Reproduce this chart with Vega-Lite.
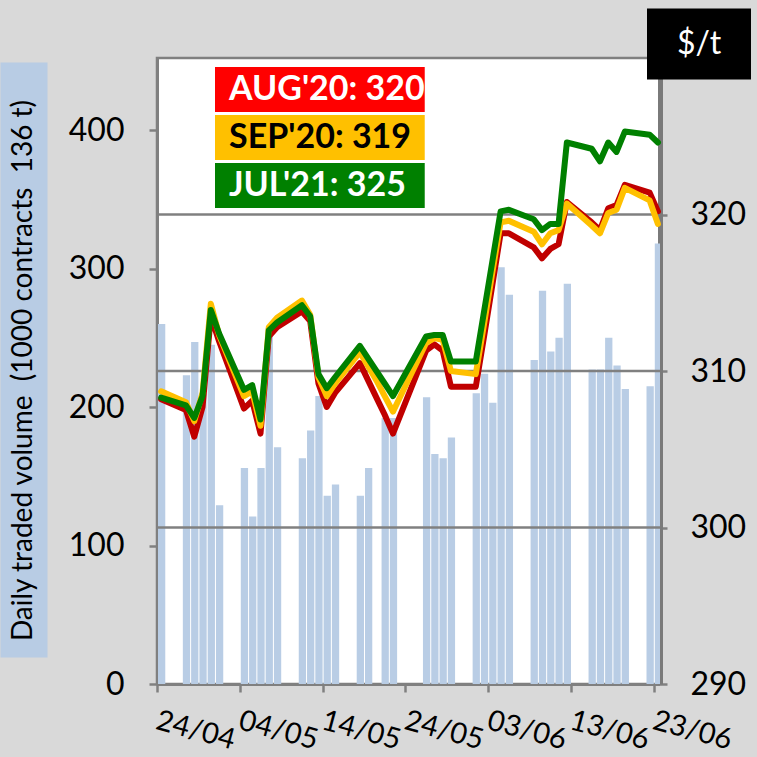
{
  "$schema": "https://vega.github.io/schema/vega-lite/v6.json",
  "width": 503,
  "height": 626,
  "autosize": {"type": "none"},
  "padding": {"left": 157, "top": 58, "right": 97, "bottom": 73},
  "background": "#d9d9d9",
  "config": {
    "view": {"fill": "white", "stroke": "#808080", "strokeWidth": 2.5},
    "font": "Lato",
    "axis": {"labelFont": "Lato", "titleFont": "Lato", "domainColor": "#808080", "tickColor": "#808080", "labelColor": "black", "grid": false}
  },
  "datasets": {
    "vol": [
      {"date": "2020-04-24", "volume": 260}, {"date": "2020-04-27", "volume": 223}, {"date": "2020-04-28", "volume": 247},
      {"date": "2020-04-29", "volume": 210}, {"date": "2020-04-30", "volume": 245}, {"date": "2020-05-01", "volume": 129},
      {"date": "2020-05-04", "volume": 156}, {"date": "2020-05-05", "volume": 121}, {"date": "2020-05-06", "volume": 156},
      {"date": "2020-05-07", "volume": 257}, {"date": "2020-05-08", "volume": 171}, {"date": "2020-05-11", "volume": 163},
      {"date": "2020-05-12", "volume": 183}, {"date": "2020-05-13", "volume": 208}, {"date": "2020-05-14", "volume": 136},
      {"date": "2020-05-15", "volume": 144}, {"date": "2020-05-18", "volume": 136}, {"date": "2020-05-19", "volume": 156},
      {"date": "2020-05-21", "volume": 192}, {"date": "2020-05-22", "volume": 192}, {"date": "2020-05-26", "volume": 207},
      {"date": "2020-05-27", "volume": 166}, {"date": "2020-05-28", "volume": 163}, {"date": "2020-05-29", "volume": 178},
      {"date": "2020-06-01", "volume": 210}, {"date": "2020-06-02", "volume": 224}, {"date": "2020-06-03", "volume": 203},
      {"date": "2020-06-04", "volume": 301}, {"date": "2020-06-05", "volume": 281}, {"date": "2020-06-08", "volume": 234},
      {"date": "2020-06-09", "volume": 284}, {"date": "2020-06-10", "volume": 240}, {"date": "2020-06-11", "volume": 250},
      {"date": "2020-06-12", "volume": 289}, {"date": "2020-06-15", "volume": 227}, {"date": "2020-06-16", "volume": 227},
      {"date": "2020-06-17", "volume": 250}, {"date": "2020-06-18", "volume": 230}, {"date": "2020-06-19", "volume": 213},
      {"date": "2020-06-22", "volume": 215}, {"date": "2020-06-23", "volume": 318}
    ],
    "price": [
      {"date": "2020-04-24", "contract": "AUG'20: 320", "price": 308.2},
      {"date": "2020-04-27", "contract": "AUG'20: 320", "price": 307.5},
      {"date": "2020-04-28", "contract": "AUG'20: 320", "price": 305.8},
      {"date": "2020-04-29", "contract": "AUG'20: 320", "price": 307.7},
      {"date": "2020-04-30", "contract": "AUG'20: 320", "price": 313.5},
      {"date": "2020-05-01", "contract": "AUG'20: 320", "price": 311.9},
      {"date": "2020-05-04", "contract": "AUG'20: 320", "price": 307.6},
      {"date": "2020-05-05", "contract": "AUG'20: 320", "price": 308.1},
      {"date": "2020-05-06", "contract": "AUG'20: 320", "price": 306.0},
      {"date": "2020-05-07", "contract": "AUG'20: 320", "price": 312.2},
      {"date": "2020-05-08", "contract": "AUG'20: 320", "price": 312.8},
      {"date": "2020-05-11", "contract": "AUG'20: 320", "price": 313.8},
      {"date": "2020-05-12", "contract": "AUG'20: 320", "price": 313.2},
      {"date": "2020-05-13", "contract": "AUG'20: 320", "price": 309.2},
      {"date": "2020-05-14", "contract": "AUG'20: 320", "price": 307.7},
      {"date": "2020-05-15", "contract": "AUG'20: 320", "price": 308.6},
      {"date": "2020-05-18", "contract": "AUG'20: 320", "price": 310.5},
      {"date": "2020-05-19", "contract": "AUG'20: 320", "price": 309.4},
      {"date": "2020-05-20", "contract": "AUG'20: 320", "price": 308.3},
      {"date": "2020-05-21", "contract": "AUG'20: 320", "price": 307.2},
      {"date": "2020-05-22", "contract": "AUG'20: 320", "price": 306.0},
      {"date": "2020-05-26", "contract": "AUG'20: 320", "price": 311.3},
      {"date": "2020-05-27", "contract": "AUG'20: 320", "price": 311.7},
      {"date": "2020-05-28", "contract": "AUG'20: 320", "price": 311.3},
      {"date": "2020-05-29", "contract": "AUG'20: 320", "price": 309.0},
      {"date": "2020-06-01", "contract": "AUG'20: 320", "price": 309.0},
      {"date": "2020-06-02", "contract": "AUG'20: 320", "price": 312.2},
      {"date": "2020-06-03", "contract": "AUG'20: 320", "price": 315.5},
      {"date": "2020-06-04", "contract": "AUG'20: 320", "price": 318.8},
      {"date": "2020-06-05", "contract": "AUG'20: 320", "price": 318.8},
      {"date": "2020-06-08", "contract": "AUG'20: 320", "price": 317.9},
      {"date": "2020-06-09", "contract": "AUG'20: 320", "price": 317.2},
      {"date": "2020-06-10", "contract": "AUG'20: 320", "price": 317.8},
      {"date": "2020-06-11", "contract": "AUG'20: 320", "price": 318.1},
      {"date": "2020-06-12", "contract": "AUG'20: 320", "price": 320.8},
      {"date": "2020-06-15", "contract": "AUG'20: 320", "price": 319.5},
      {"date": "2020-06-16", "contract": "AUG'20: 320", "price": 319.0},
      {"date": "2020-06-17", "contract": "AUG'20: 320", "price": 320.4},
      {"date": "2020-06-18", "contract": "AUG'20: 320", "price": 320.6},
      {"date": "2020-06-19", "contract": "AUG'20: 320", "price": 321.9},
      {"date": "2020-06-22", "contract": "AUG'20: 320", "price": 321.4},
      {"date": "2020-06-23", "contract": "AUG'20: 320", "price": 320.2},
      {"date": "2020-04-24", "contract": "SEP'20: 319", "price": 308.7},
      {"date": "2020-04-27", "contract": "SEP'20: 319", "price": 308.0},
      {"date": "2020-04-28", "contract": "SEP'20: 319", "price": 306.8},
      {"date": "2020-04-29", "contract": "SEP'20: 319", "price": 308.6},
      {"date": "2020-04-30", "contract": "SEP'20: 319", "price": 314.3},
      {"date": "2020-05-01", "contract": "SEP'20: 319", "price": 312.3},
      {"date": "2020-05-04", "contract": "SEP'20: 319", "price": 308.4},
      {"date": "2020-05-05", "contract": "SEP'20: 319", "price": 308.7},
      {"date": "2020-05-06", "contract": "SEP'20: 319", "price": 306.5},
      {"date": "2020-05-07", "contract": "SEP'20: 319", "price": 312.8},
      {"date": "2020-05-08", "contract": "SEP'20: 319", "price": 313.4},
      {"date": "2020-05-11", "contract": "SEP'20: 319", "price": 314.5},
      {"date": "2020-05-12", "contract": "SEP'20: 319", "price": 313.6},
      {"date": "2020-05-13", "contract": "SEP'20: 319", "price": 309.6},
      {"date": "2020-05-14", "contract": "SEP'20: 319", "price": 308.4},
      {"date": "2020-05-15", "contract": "SEP'20: 319", "price": 309.2},
      {"date": "2020-05-18", "contract": "SEP'20: 319", "price": 311.2},
      {"date": "2020-05-19", "contract": "SEP'20: 319", "price": 310.3},
      {"date": "2020-05-20", "contract": "SEP'20: 319", "price": 309.4},
      {"date": "2020-05-21", "contract": "SEP'20: 319", "price": 308.4},
      {"date": "2020-05-22", "contract": "SEP'20: 319", "price": 307.4},
      {"date": "2020-05-26", "contract": "SEP'20: 319", "price": 311.8},
      {"date": "2020-05-27", "contract": "SEP'20: 319", "price": 312.1},
      {"date": "2020-05-28", "contract": "SEP'20: 319", "price": 312.0},
      {"date": "2020-05-29", "contract": "SEP'20: 319", "price": 310.0},
      {"date": "2020-06-01", "contract": "SEP'20: 319", "price": 309.8},
      {"date": "2020-06-02", "contract": "SEP'20: 319", "price": 313.0},
      {"date": "2020-06-03", "contract": "SEP'20: 319", "price": 316.3},
      {"date": "2020-06-04", "contract": "SEP'20: 319", "price": 319.5},
      {"date": "2020-06-05", "contract": "SEP'20: 319", "price": 319.6},
      {"date": "2020-06-08", "contract": "SEP'20: 319", "price": 318.9},
      {"date": "2020-06-09", "contract": "SEP'20: 319", "price": 318.1},
      {"date": "2020-06-10", "contract": "SEP'20: 319", "price": 318.8},
      {"date": "2020-06-11", "contract": "SEP'20: 319", "price": 319.0},
      {"date": "2020-06-12", "contract": "SEP'20: 319", "price": 320.7},
      {"date": "2020-06-15", "contract": "SEP'20: 319", "price": 319.3},
      {"date": "2020-06-16", "contract": "SEP'20: 319", "price": 318.8},
      {"date": "2020-06-17", "contract": "SEP'20: 319", "price": 320.1},
      {"date": "2020-06-18", "contract": "SEP'20: 319", "price": 320.3},
      {"date": "2020-06-19", "contract": "SEP'20: 319", "price": 321.7},
      {"date": "2020-06-22", "contract": "SEP'20: 319", "price": 320.9},
      {"date": "2020-06-23", "contract": "SEP'20: 319", "price": 319.4},
      {"date": "2020-04-24", "contract": "JUL'21: 325", "price": 308.3},
      {"date": "2020-04-27", "contract": "JUL'21: 325", "price": 307.8},
      {"date": "2020-04-28", "contract": "JUL'21: 325", "price": 307.0},
      {"date": "2020-04-29", "contract": "JUL'21: 325", "price": 308.4},
      {"date": "2020-04-30", "contract": "JUL'21: 325", "price": 313.9},
      {"date": "2020-05-01", "contract": "JUL'21: 325", "price": 312.4},
      {"date": "2020-05-04", "contract": "JUL'21: 325", "price": 308.8},
      {"date": "2020-05-05", "contract": "JUL'21: 325", "price": 309.1},
      {"date": "2020-05-06", "contract": "JUL'21: 325", "price": 306.9},
      {"date": "2020-05-07", "contract": "JUL'21: 325", "price": 312.6},
      {"date": "2020-05-08", "contract": "JUL'21: 325", "price": 313.1},
      {"date": "2020-05-11", "contract": "JUL'21: 325", "price": 314.2},
      {"date": "2020-05-12", "contract": "JUL'21: 325", "price": 313.5},
      {"date": "2020-05-13", "contract": "JUL'21: 325", "price": 309.8},
      {"date": "2020-05-14", "contract": "JUL'21: 325", "price": 308.9},
      {"date": "2020-05-15", "contract": "JUL'21: 325", "price": 309.6},
      {"date": "2020-05-18", "contract": "JUL'21: 325", "price": 311.6},
      {"date": "2020-05-19", "contract": "JUL'21: 325", "price": 310.8},
      {"date": "2020-05-20", "contract": "JUL'21: 325", "price": 310.0},
      {"date": "2020-05-21", "contract": "JUL'21: 325", "price": 309.2},
      {"date": "2020-05-22", "contract": "JUL'21: 325", "price": 308.4},
      {"date": "2020-05-26", "contract": "JUL'21: 325", "price": 312.2},
      {"date": "2020-05-27", "contract": "JUL'21: 325", "price": 312.3},
      {"date": "2020-05-28", "contract": "JUL'21: 325", "price": 312.3},
      {"date": "2020-05-29", "contract": "JUL'21: 325", "price": 310.6},
      {"date": "2020-06-01", "contract": "JUL'21: 325", "price": 310.6},
      {"date": "2020-06-02", "contract": "JUL'21: 325", "price": 313.8},
      {"date": "2020-06-03", "contract": "JUL'21: 325", "price": 317.0},
      {"date": "2020-06-04", "contract": "JUL'21: 325", "price": 320.2},
      {"date": "2020-06-05", "contract": "JUL'21: 325", "price": 320.3},
      {"date": "2020-06-08", "contract": "JUL'21: 325", "price": 319.7},
      {"date": "2020-06-09", "contract": "JUL'21: 325", "price": 319.0},
      {"date": "2020-06-10", "contract": "JUL'21: 325", "price": 319.4},
      {"date": "2020-06-11", "contract": "JUL'21: 325", "price": 319.4},
      {"date": "2020-06-12", "contract": "JUL'21: 325", "price": 324.6},
      {"date": "2020-06-15", "contract": "JUL'21: 325", "price": 324.2},
      {"date": "2020-06-16", "contract": "JUL'21: 325", "price": 323.4},
      {"date": "2020-06-17", "contract": "JUL'21: 325", "price": 324.6},
      {"date": "2020-06-18", "contract": "JUL'21: 325", "price": 324.0},
      {"date": "2020-06-19", "contract": "JUL'21: 325", "price": 325.3},
      {"date": "2020-06-22", "contract": "JUL'21: 325", "price": 325.1},
      {"date": "2020-06-23", "contract": "JUL'21: 325", "price": 324.6}
    ]
  },
  "resolve": {"scale": {"y": "independent"}},
  "layer": [
    {
      "data": {"name": "vol"},
      "mark": {"type": "bar", "color": "#b9cde5", "clip": true},
      "encoding": {
        "x": {
          "field": "date", "type": "temporal", "timeUnit": "utcyearmonthdate",
          "scale": {"type": "utc", "domain": [{"year": 2020, "month": 4, "date": 24, "utc": true}, {"year": 2020, "month": 6, "date": 23, "hours": 18, "utc": true}]},
          "axis": {
            "title": null,
            "values": [
              {"year": 2020, "month": 4, "date": 24, "utc": true},
              {"year": 2020, "month": 5, "date": 4, "utc": true},
              {"year": 2020, "month": 5, "date": 14, "utc": true},
              {"year": 2020, "month": 5, "date": 24, "utc": true},
              {"year": 2020, "month": 6, "date": 3, "utc": true},
              {"year": 2020, "month": 6, "date": 13, "utc": true},
              {"year": 2020, "month": 6, "date": 23, "utc": true}
            ],
            "format": "%d/%m",
            "labelAngle": 15, "labelAlign": "left", "labelBaseline": "top",
            "labelFontSize": 29, "labelPadding": 14, "labelOffset": 3,
            "labelFlush": false, "labelOverlap": false,
            "tickSize": 8, "tickWidth": 2.5, "domainWidth": 3
          }
        },
        "y": {
          "field": "volume", "type": "quantitative",
          "scale": {"domain": [0, 452], "nice": false},
          "axis": {"orient": "left", "title": null, "values": [0, 100, 200, 300, 400], "labelFontSize": 32, "labelPadding": 25, "tickSize": 8, "tickWidth": 2.5, "domainWidth": 3}
        }
      }
    },
    {
      "layer": [
        {"data": {"values": [{}]}, "mark": {"type": "rule", "color": "#808080", "strokeWidth": 2.5}, "encoding": {"y": {"datum": 300, "type": "quantitative", "axis": {"title": null}}}},
        {"data": {"values": [{}]}, "mark": {"type": "rule", "color": "#808080", "strokeWidth": 2.5}, "encoding": {"y": {"datum": 310, "type": "quantitative", "axis": {"title": null}}}},
        {"data": {"values": [{}]}, "mark": {"type": "rule", "color": "#808080", "strokeWidth": 2.5}, "encoding": {"y": {"datum": 320, "type": "quantitative", "axis": {"title": null}}}},
        {
          "data": {"name": "price"},
          "transform": [{"filter": "indexof(datum.contract, 'AUG') >= 0"}],
          "mark": {"type": "line", "color": "#c00000", "strokeWidth": 6, "strokeJoin": "round", "strokeCap": "round"},
          "encoding": {
            "x": {"field": "date", "type": "temporal", "timeUnit": "utcyearmonthdate", "bandPosition": 0.5, "axis": {"title": null}},
            "y": {"field": "price", "type": "quantitative", "scale": {"domain": [290, 330], "nice": false, "zero": false}, "axis": {"title": null}}
          }
        },
        {
          "data": {"name": "price"},
          "transform": [{"filter": "indexof(datum.contract, 'SEP') >= 0"}],
          "mark": {"type": "line", "color": "#ffc000", "strokeWidth": 6, "strokeJoin": "round", "strokeCap": "round"},
          "encoding": {
            "x": {"field": "date", "type": "temporal", "timeUnit": "utcyearmonthdate", "bandPosition": 0.5, "axis": {"title": null}},
            "y": {"field": "price", "type": "quantitative", "axis": {"title": null}}
          }
        },
        {
          "data": {"name": "price"},
          "transform": [{"filter": "indexof(datum.contract, 'JUL') >= 0"}],
          "mark": {"type": "line", "color": "#008000", "strokeWidth": 6, "strokeJoin": "round", "strokeCap": "round"},
          "encoding": {
            "x": {"field": "date", "type": "temporal", "timeUnit": "utcyearmonthdate", "bandPosition": 0.5, "axis": {"title": null}},
            "y": {
              "field": "price", "type": "quantitative",
              "axis": {"orient": "right", "title": null, "values": [290, 300, 310, 320], "labelFontSize": 32, "labelPadding": 23, "tickSize": 7, "tickWidth": 2.5, "domainWidth": 5, "domainColor": "#7a7a7a"}
            }
          }
        }
      ]
    },
    {
      "data": {"name": "price"},
      "mark": {"type": "point", "filled": true, "opacity": 0},
      "encoding": {
        "x": {"field": "date", "type": "temporal", "timeUnit": "utcyearmonthdate", "bandPosition": 0.5, "axis": {"title": null}},
        "y": {
          "field": "price", "type": "quantitative",
          "scale": {"domain": [290, 330], "range": [599, 4], "nice": false, "zero": false},
          "axis": {
            "orient": "left", "offset": 133.5, "domainColor": "#b8cce4", "domainWidth": 47,
            "ticks": false, "labels": false, "grid": false,
            "title": "Daily traded volume\u00a0 (1000 contracts\u00a0 136 t)",
            "titleFontSize": 28, "titleFontWeight": "normal", "titleColor": "black",
            "titleX": 0, "titleY": 312, "titleAngle": -90, "titleBaseline": "middle", "titleAlign": "center"
          }
        },
        "fill": {
          "field": "contract", "type": "nominal",
          "scale": {"domain": ["AUG'20: 320", "SEP'20: 319", "JUL'21: 325"], "range": ["#ff0000", "#ffc000", "#008000"]},
          "legend": {
            "orient": "none", "legendX": 58, "legendY": 9, "title": null, "padding": 0, "rowPadding": 3, "clipHeight": 45,
            "symbolType": "M-1,-0.182H1V0.182H-1Z", "symbolSize": 61009, "symbolStrokeWidth": 0, "symbolOpacity": 1,
            "labelOffset": -233, "labelFontSize": 34, "labelFont": "Lato", "labelFontWeight": "bold",
            "labelColor": {"expr": "indexof(datum.value, 'SEP') >= 0 ? 'black' : 'white'"},
            "labelLimit": 400
          }
        },
        "shape": {
          "datum": "$/t",
          "scale": {"range": ["M-1,-0.683H1V0.683H-1Z"]},
          "legend": {
            "orient": "none", "legendX": 490, "legendY": -66, "title": null, "padding": 0,
            "symbolSize": 10816, "symbolFillColor": "black", "symbolStrokeWidth": 0, "symbolOpacity": 1,
            "labelOffset": -74, "labelFontSize": 32, "labelFont": "Lato", "labelColor": "white", "labelLimit": 200
          }
        }
      }
    }
  ]
}
